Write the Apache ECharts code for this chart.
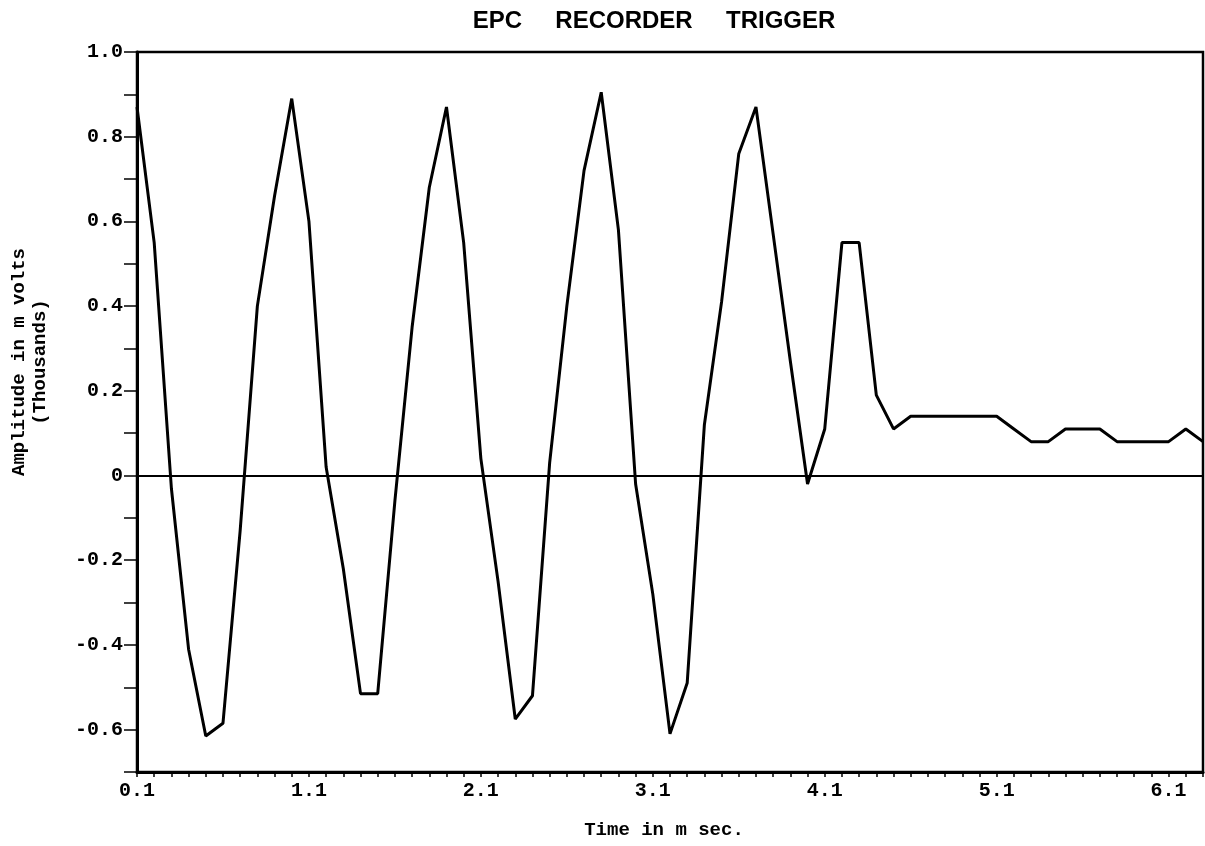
<!DOCTYPE html>
<html>
<head>
<meta charset="utf-8">
<script src="https://cdn.jsdelivr.net/npm/echarts@6/dist/echarts.min.js"></script>
<style>
html,body{margin:0;padding:0;background:#fff;}
#chart{width:1205px;height:846px;}
</style>
</head>
<body>
<div id="chart"></div>
<script>
const times = ['0.1','0.2','0.3','0.4','0.5','0.6','0.7','0.8','0.9','1.0',
  '1.1','1.2','1.3','1.4','1.5','1.6','1.7','1.8','1.9','2.0',
  '2.1','2.2','2.3','2.4','2.5','2.6','2.7','2.8','2.9','3.0',
  '3.1','3.2','3.3','3.4','3.5','3.6','3.7','3.8','3.9','4.0',
  '4.1','4.2','4.3','4.4','4.5','4.6','4.7','4.8','4.9','5.0',
  '5.1','5.2','5.3','5.4','5.5','5.6','5.7','5.8','5.9','6.0',
  '6.1','6.2','6.3'];
const amplitude = [0.87,0.55,-0.03,-0.41,-0.615,-0.585,-0.13,0.40,0.66,0.89,
  0.60,0.02,-0.22,-0.515,-0.515,-0.06,0.35,0.68,0.87,
  0.55,0.04,-0.25,-0.575,-0.52,0.03,0.40,0.72,0.905,
  0.58,-0.02,-0.28,-0.61,-0.49,0.12,0.41,0.76,0.87,
  0.57,0.27,-0.02,0.11,0.55,0.55,0.19,0.11,
  0.14,0.14,0.14,0.14,0.14,0.14,
  0.11,0.08,0.08,0.11,0.11,0.11,0.08,0.08,0.08,0.08,0.11,0.08];
const titleText = 'EPC     RECORDER     TRIGGER';
const xTitle = 'Time in m sec.';
const yTitle1 = 'Amplitude in m volts';
const yTitle2 = '(Thousands)';

const mono = "'Liberation Mono', 'DejaVu Sans Mono', monospace";
const chart = echarts.init(document.getElementById('chart'), null, {renderer:'canvas'});
chart.setOption({
  backgroundColor: '#fff',
  animation: false,
  grid: {left: 137, right: 2, top: 52, bottom: 74, show: true, borderColor: '#000', borderWidth: 2.5, backgroundColor: 'transparent'},
  xAxis: {
    type: 'category', data: times, boundaryGap: false,
    axisLine: {onZero: false, lineStyle: {color: '#000', width: 3}},
    axisTick: {show: true, interval: 0, length: 5, lineStyle: {color: '#000', width: 1.5}},
    axisLabel: {interval: 9, color: '#000', fontFamily: mono, fontWeight: 'bold', fontSize: 20, margin: 9},
    splitLine: {show: false}
  },
  yAxis: {
    type: 'value', min: -0.7, max: 1.0, interval: 0.1,
    axisLine: {show: true, lineStyle: {color: '#000', width: 3}},
    axisTick: {show: true, length: 13, lineStyle: {color: '#000', width: 1.5}},
    axisLabel: {
      color: '#000', fontFamily: mono, fontWeight: 'bold', fontSize: 20, margin: 14,
      formatter: function (v) {
        const t = Math.round(v * 10);
        if (t % 2 !== 0) return '';
        if (t === 0) return '0';
        return (t / 10).toFixed(1);
      }
    },
    splitLine: {show: false}
  },
  series: [{
    type: 'line', data: amplitude, showSymbol: false, symbol: 'none',
    lineStyle: {color: '#000', width: 3},
    markLine: {
      silent: true, symbol: 'none', label: {show: false},
      lineStyle: {color: '#000', width: 2, type: 'solid'},
      data: [{yAxis: 0}]
    }
  }],
  graphic: [
    {type: 'text', x: 654, y: 21, style: {text: titleText, fill: '#000', font: "bold 24px 'Liberation Sans', Arial, sans-serif", textAlign: 'center', textVerticalAlign: 'middle'}},
    {type: 'text', x: 664, y: 830, style: {text: xTitle, fill: '#000', font: "bold 19px " + mono, textAlign: 'center', textVerticalAlign: 'middle'}},
    {type: 'text', x: 19, y: 362, rotation: Math.PI / 2, style: {text: yTitle1, fill: '#000', font: "bold 19px " + mono, textAlign: 'center', textVerticalAlign: 'middle'}},
    {type: 'text', x: 40, y: 362, rotation: Math.PI / 2, style: {text: yTitle2, fill: '#000', font: "bold 19px " + mono, textAlign: 'center', textVerticalAlign: 'middle'}}
  ]
});
</script>
</body>
</html>
